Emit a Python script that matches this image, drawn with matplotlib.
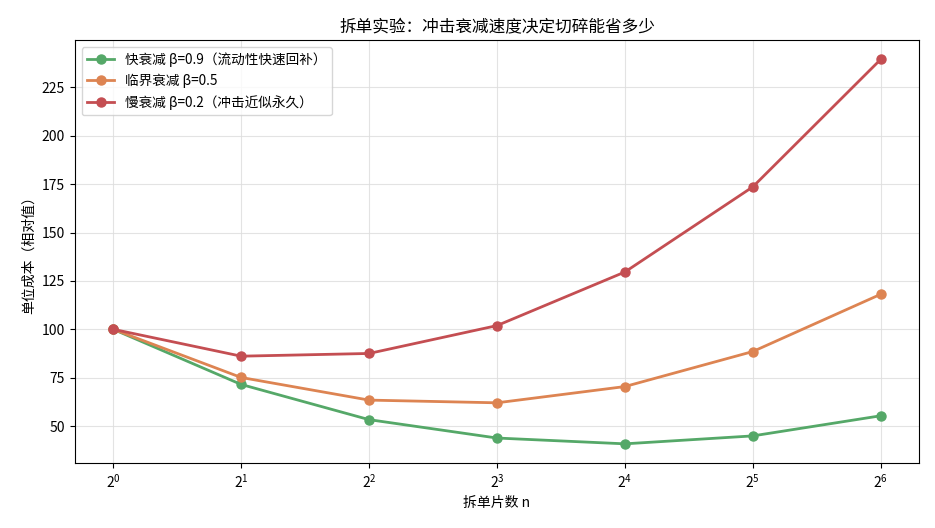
import matplotlib
matplotlib.use('Agg')
import matplotlib.pyplot as plt

plt.rcParams['font.family'] = ['Noto Sans CJK SC', 'DejaVu Sans']
plt.rcParams['axes.unicode_minus'] = False

# data
n = [1, 2, 4, 8, 16, 32, 64]
fast = [100, 71.5, 53.3, 43.8, 40.8, 44.9, 55.3]
mid = [100, 75.1, 63.4, 62.0, 70.4, 88.5, 118.1]
slow = [100, 86.1, 87.5, 101.9, 129.6, 173.6, 239.5]

labels = ['快衰减 β=0.9（流动性快速回补）', '临界衰减 β=0.5', '慢衰减 β=0.2（冲击近似永久）']
colors = ['#55a868', '#dd8452', '#c44e52']

fig, ax = plt.subplots(figsize=(9.35, 5.28), dpi=100)
for ys, lab, c in zip([fast, mid, slow], labels, colors):
    ax.plot(n, ys, marker='o', color=c, linewidth=2, markersize=6.5, label=lab)

ax.set_xscale('log', base=2)
ax.set_title('拆单实验：冲击衰减速度决定切碎能省多少', fontsize=12)
ax.set_xlabel('拆单片数 n')
ax.set_ylabel('单位成本（相对值）')
ax.grid(True, color='#dddddd', linewidth=0.8, alpha=0.8)
ax.legend(loc='upper left', fontsize=9.8)

fig.subplots_adjust(left=0.080, right=0.983, top=0.924, bottom=0.123)
plt.savefig('out.png')
